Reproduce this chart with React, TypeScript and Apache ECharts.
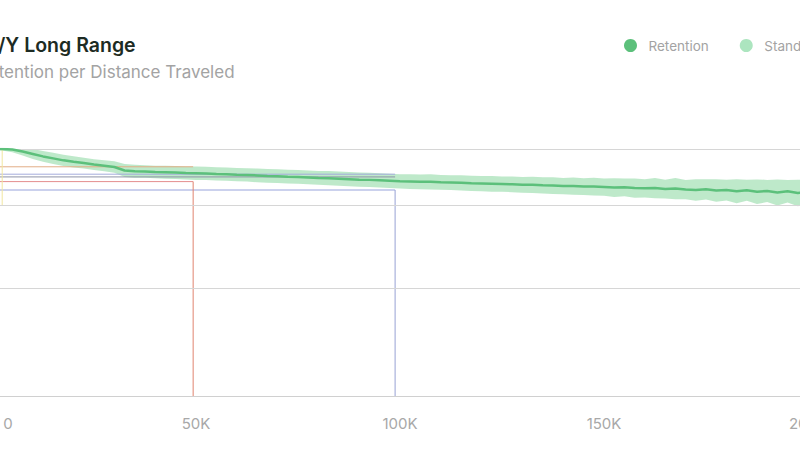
import React, { useEffect, useRef } from 'react';
import * as echarts from 'echarts';

// distance travelled (thousands of miles)
const distanceK = [
  0, 2.5, 5, 7.5, 10, 12.5, 15, 17.5, 20, 22.5, 25, 27.5, 30, 32.5, 35, 37.5, 40, 42.5, 45, 47.5,
  50, 52.5, 55, 57.5, 60, 62.5, 65, 67.5, 70, 72.5, 75, 77.5, 80, 82.5, 85, 87.5, 90, 92.5, 95, 97.5,
  100, 102.5, 105, 107.5, 110, 112.5, 115, 117.5, 120, 122.5, 125, 127.5, 130, 132.5, 135, 137.5,
  140, 142.5, 145, 147.5, 150, 152.5, 155, 157.5, 160, 162.5, 165, 167.5, 170, 172.5, 175, 177.5,
  180, 182.5, 185, 187.5, 190, 192.5, 195, 197.5, 200, 202.5, 205,
];

// mean battery retention (%)
const retention = [
  100, 100, 99.8, 99.0, 98.0, 97.0, 96.2, 95.4, 94.8, 94.3, 93.7, 93.2, 92.7, 91.3, 91.0, 90.9, 90.7, 90.6, 90.5, 90.3,
  90.2, 90.1, 89.9, 89.8, 89.6, 89.5, 89.3, 89.1, 89.0, 88.8, 88.7, 88.5, 88.3, 88.2, 88.0, 87.8, 87.6, 87.5, 87.3, 87.1,
  86.9, 86.8, 86.7, 86.7, 86.5, 86.4, 86.3, 86.1, 86.0, 85.9, 85.8, 85.7, 85.5, 85.5, 85.3, 85.2,
  85.0, 85.0, 84.8, 84.8, 84.6, 84.4, 84.5, 84.2, 84.1, 84.2, 83.8, 84.0, 83.6, 83.4, 83.7, 83.2,
  83.4, 82.9, 83.3, 82.7, 83.0, 82.4, 82.9, 82.2, 82.6, 82.0, 82.4,
];

// standard deviation of retention (%)
const stdDev = [
  0, 0.6, 1.1, 1.6, 2.0, 2.2, 2.3, 2.3, 2.3, 2.2, 2.2, 2.2, 2.3, 2.6, 2.6, 2.5, 2.5, 2.6, 2.6, 2.6,
  2.7, 2.7, 2.7, 2.7, 2.7, 2.7, 2.8, 2.8, 2.8, 2.8, 2.8, 2.8, 2.8, 2.9, 2.9, 2.9, 2.9, 2.9, 2.9, 2.9,
  2.9, 3.0, 3.0, 3.1, 3.0, 3.0, 3.1, 3.1, 3.1, 3.2, 3.1, 3.2, 3.2, 3.3, 3.3, 3.4,
  3.3, 3.5, 3.4, 3.6, 3.5, 3.8, 3.6, 3.9, 3.7, 4.1, 3.8, 4.3, 3.9, 4.4, 4.1, 4.6,
  4.2, 4.9, 4.3, 5.0, 4.5, 5.3, 4.6, 5.4, 4.8, 5.5, 5.0,
];

// horizontal grid values (%)
const gridValues = [100, 77.3, 43.7];

// reference segments: horizontal line from 0 to xEnd at y
const refY = [92.8, 89.8, 88.7, 86.8, 83.4];
const refXEndK = [49.3, 98.8, 98.8, 49.3, 98.8];
const refColors = ['#e2ad86', '#a4acdb', '#8f93a8', '#e48e8e', '#98a3dc'];

// reference verticals: at x from yTop down to yBottom
const vertXK = [49.3, 98.8, 2.5];
const vertTop = [86.8, 83.4, 100];
const vertBottom = [0, 0, 77.3];
const vertColors = ['#e0836f', '#98a2d4', '#f1e6a0'];

const legendNames = ['Retention', 'Standard Deviation'];

export default function App() {
  const ref = useRef<HTMLDivElement>(null);

  useEffect(() => {
    const chart = echarts.init(ref.current!, undefined, { renderer: 'svg' });
    const xs = distanceK.map((d) => d * 1000);
    const main = retention.map((r, i) => [xs[i], r]);

    const refSeries: any[] = [];
    refY.forEach((y, i) => {
      refSeries.push({
        name: 'refH' + i,
        type: 'line',
        data: [
          [0, y],
          [refXEndK[i] * 1000, y],
        ],
        showSymbol: false,
        symbol: 'none',
        silent: true,
        z: 2,
        itemStyle: { color: refColors[i] },
        lineStyle: { color: refColors[i], width: 1 },
      });
    });
    vertXK.forEach((x, i) => {
      refSeries.push({
        name: 'refV' + i,
        type: 'line',
        data: [
          [x * 1000, vertTop[i]],
          [x * 1000, vertBottom[i]],
        ],
        showSymbol: false,
        symbol: 'none',
        silent: true,
        z: 2,
        itemStyle: { color: vertColors[i] },
        lineStyle: { color: vertColors[i], width: 1 },
      });
    });

    const font = 'Inter, "Noto Sans", sans-serif';

    chart.setOption({
      animation: false,
      backgroundColor: '#ffffff',
      title: [
        {
          text: 'Model 3/Y Long Range',
          left: -78,
          top: 33,
          padding: 0,
          textStyle: { fontFamily: font, fontSize: 19.5, fontWeight: 600, color: '#1d2b23', lineHeight: 24 },
        },
        {
          text: 'Battery Retention per Distance Traveled',
          left: -84,
          top: 61,
          padding: 0,
          textStyle: { fontFamily: font, fontSize: 17, fontWeight: 400, color: '#a3a3a3', lineHeight: 22 },
        },
      ],
      legend: {
        data: legendNames.map((n) => ({ name: n, icon: 'circle' })),
        left: 624,
        top: 38.5,
        width: 500,
        itemWidth: 26,
        itemHeight: 13,
        itemGap: 31,
        padding: 0,
        textStyle: { fontFamily: font, fontSize: 13.5, color: '#a3a3a3' },
      },
      grid: { left: -8, right: -48.8, top: 149, bottom: 54, containLabel: false, outerBoundsMode: 'none' },
      xAxis: {
        type: 'value',
        min: 0,
        max: 210000,
        interval: 50000,
        axisLine: { show: true, lineStyle: { color: '#d0d0d0', width: 1 } },
        axisTick: { show: false },
        splitLine: { show: false },
        axisLabel: {
          showMaxLabel: false,
          margin: 20,
          fontFamily: font,
          fontSize: 15,
          color: '#a8a8a8',
          formatter: (v: number) => (v === 0 ? '{z|0}' : v / 1000 + 'K'),
          rich: {
            z: { padding: [0, 0, 0, 32], fontFamily: font, fontSize: 15, color: '#a8a8a8' },
          },
        },
      },
      yAxis: {
        type: 'value',
        min: 0,
        max: 100,
        axisLine: { show: false },
        axisTick: { show: false },
        axisLabel: { show: false },
        splitLine: { show: false },
      },
      series: [
        {
          name: 'Standard Deviation',
          type: 'custom',
          data: [[0, 100]],
          encode: { x: 0, y: 1 },
          itemStyle: { color: '#ace5bf' },
          silent: true,
          z: 1,
          renderItem: (params: any, api: any) => {
            if (params.dataIndex !== 0) return null;
            const up = xs.map((x, i) => api.coord([x, Math.min(100, retention[i] + stdDev[i])]));
            const lo = xs.map((x, i) => api.coord([x, retention[i] - stdDev[i]])).reverse();
            return {
              type: 'polygon',
              shape: { points: up.concat(lo) },
              style: { fill: 'rgba(125, 212, 150, 0.5)' },
            };
          },
        },
        {
          name: 'grid',
          type: 'line',
          data: main,
          showSymbol: false,
          symbol: 'none',
          lineStyle: { opacity: 0 },
          silent: true,
          z: 0,
          markLine: {
            silent: true,
            symbol: ['none', 'none'],
            label: { show: false },
            animation: false,
            lineStyle: { color: '#d6d6d6', width: 1, type: 'solid' },
            data: gridValues.map((v) => ({ yAxis: v })),
          },
        },
        ...refSeries,
        {
          name: 'Retention',
          type: 'line',
          data: main,
          showSymbol: false,
          symbol: 'none',
          itemStyle: { color: '#5cc07b' },
          lineStyle: { color: '#5cc07b', width: 2.5 },
          z: 5,
        },
      ],
    });
    return () => chart.dispose();
  }, []);

  return <div ref={ref} style={{ position: 'fixed', left: 0, top: 0, width: 800, height: 450 }} />;
}
